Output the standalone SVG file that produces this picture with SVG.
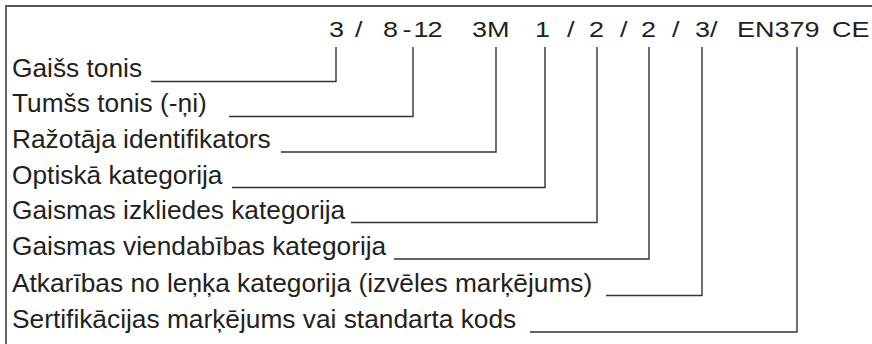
<svg xmlns="http://www.w3.org/2000/svg" width="872" height="344" viewBox="0 0 872 344">
<style>
text{font-family:"Liberation Sans",Arial,sans-serif;font-size:26.3px;fill:#231f20}
#code text{font-size:22.5px}
.c{fill:none;stroke:#333;stroke-width:1.4}
.f{fill:none;stroke:#555;stroke-width:1.8}
</style>
<rect width="872" height="344" fill="#fff"/>
<path class="f" d="M6,344 V6 H872"/>
<g id="code" transform="scale(1.2,1)">
<text y="37.5"><tspan x="274.2">3</tspan><tspan x="295.8">/</tspan><tspan x="319.2">8</tspan><tspan x="335.5">-</tspan><tspan x="344.6">1</tspan><tspan x="356.2">2</tspan><tspan x="393.3">3M</tspan><tspan x="445.8">1</tspan><tspan x="472.5">/</tspan><tspan x="490.8">2</tspan><tspan x="516.7">/</tspan><tspan x="534.2">2</tspan><tspan x="560">/</tspan><tspan x="579.2">3/</tspan><tspan x="614.2">EN379</tspan><tspan x="693.3">CE</tspan></text>
</g>
<g id="n1"><text x="12" y="77">Gaišs tonis</text></g>
<g id="n2"><text x="12" y="112">Tumšs tonis (-ņi)</text></g>
<g id="n3"><text x="12" y="148">Ražotāja identifikators</text></g>
<g id="n4"><text x="12" y="183.5">Optiskā kategorija</text></g>
<g id="n5"><text x="12" y="218.5">Gaismas izkliedes kategorija</text></g>
<g id="n6"><text x="12" y="255">Gaismas viendabības kategorija</text></g>
<g id="n7"><text x="12" y="291.5">Atkarības no leņķa kategorija (izvēles marķējums)</text></g>
<g id="n8"><text x="12" y="328">Sertifikācijas marķējums vai standarta kods</text></g>
<g id="connectors">
<path class="c" d="M151,81.5 H336 V47"/>
<path class="c" d="M229,116.5 H413 V47"/>
<path class="c" d="M281,152 H496 V47"/>
<path class="c" d="M232,187.5 H545 V47"/>
<path class="c" d="M351,222.5 H597 V47"/>
<path class="c" d="M394,259 H649 V47"/>
<path class="c" d="M606,295.5 H702 V47"/>
<path class="c" d="M530,332 H797 V47"/>
</g>
</svg>
